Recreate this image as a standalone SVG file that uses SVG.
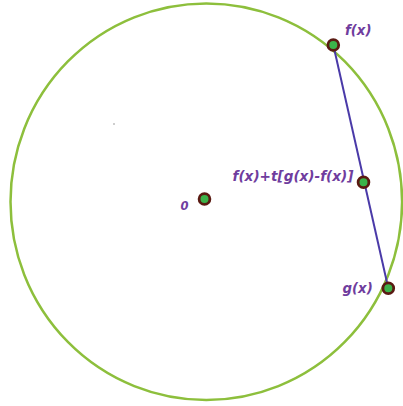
<svg xmlns="http://www.w3.org/2000/svg" width="403" height="406" viewBox="0 0 403 406">
<style>
.pt{fill:#3bb34a;stroke:#5a1a12;stroke-width:2.8}
.lbl{font-family:"DejaVu Sans",Verdana,sans-serif;font-weight:bold;font-style:italic;font-size:13.3px;fill:#6f3d9e}
</style>
<rect width="403" height="406" fill="#ffffff"/>
<g id="circle">
<ellipse cx="206.3" cy="201.7" rx="195.8" ry="198.3" fill="none" stroke="#8dbf3c" stroke-width="2.5"/>
</g>
<circle cx="114" cy="124" r="0.7" fill="#777"/>
<g id="connectors">
<line x1="333.3" y1="45" x2="388.3" y2="288.3" stroke="#4a3aa8" stroke-width="2"/>
</g>
<g id="origin">
<circle class="pt" cx="204.5" cy="199" r="5.4"/>
<text class="lbl" x="180.5" y="210" style="font-size:11.5px">0</text>
</g>
<g id="fx">
<circle class="pt" cx="333.3" cy="45" r="5.4"/>
<text class="lbl" x="345" y="35">f(x)</text>
</g>
<g id="mid">
<circle class="pt" cx="363.5" cy="182.3" r="5.4"/>
<text class="lbl" x="232.5" y="181" textLength="121" lengthAdjust="spacingAndGlyphs">f(x)+t[g(x)-f(x)]</text>
</g>
<g id="gx">
<circle class="pt" cx="388.3" cy="288.3" r="5.4"/>
<text class="lbl" x="342.5" y="293">g(x)</text>
</g>
</svg>
